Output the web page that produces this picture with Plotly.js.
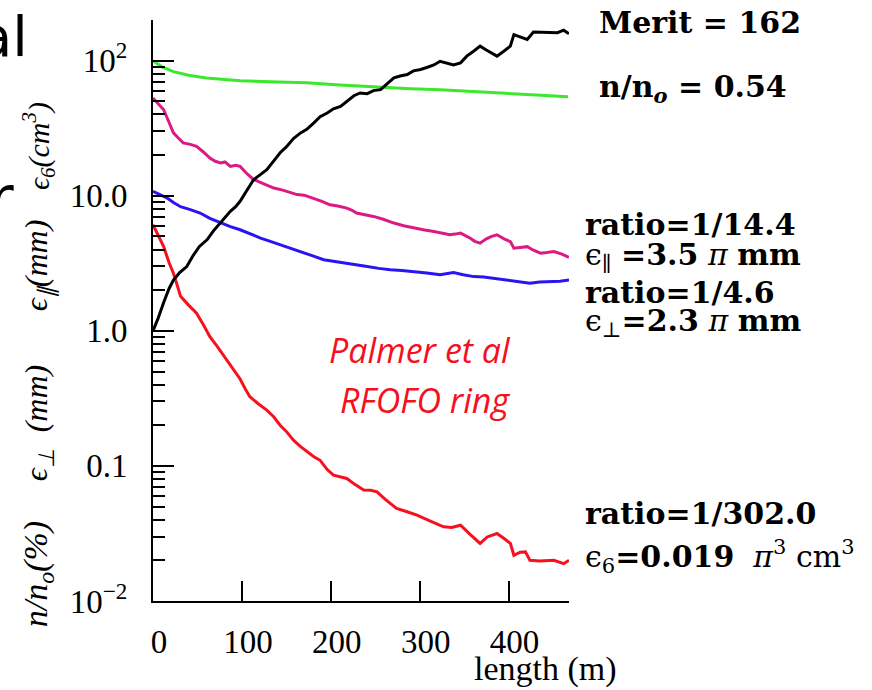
<!DOCTYPE html>
<html>
<head>
<meta charset="utf-8">
<script src="https://cdn.plot.ly/plotly-3.0.1.min.js"></script>
<style>html,body{margin:0;padding:0;background:#fff;}#chart{width:872px;height:690px;}</style>
</head>
<body>
<div id="chart"></div>
<script>
// length (m)
const xMerit = [0,6,12,18,23,30,38,45,52,61,68,76,82,87,93,98,105,113,120,128,135,143,150,158,166,173,181,188,196,203,211,218,226,233,241,248,256,263,271,278,286,293,301,308,316,323,330,338,346,353,361,368,375,381,387,395,402,406,413,421,428,436,446,455,462,468];
const yMerit = [1.0,1.25,1.62,2.05,2.38,2.7,2.99,3.6,4.2,4.74,5.5,6.3,7.0,7.66,8.3,9.1,10.8,13.1,14.2,15.6,17.8,20.8,23,26.5,29.2,31,34.6,38.5,41,44,45.9,50,55,57.7,57,60,61,67,74.5,77,79,84,86,89,93,99,96,93,96.4,108,118,128,120,113,108,118,128,156,150,143.5,163,162,161,161,168,158];

const xTrans = [0,10,23,40,60,98,140,173,210,248,290,323,360,398,435,467];
const yTrans = [100,90,83,78,74.5,71,69.5,68.5,66,63.8,62,61,59,57.5,55.5,54];

const xLong = [0,6,12,18,23,29,34,42,49,57,64,70,76,81,87,93,98,106,113,124,136,146,154,162,170,181,190,199,208,218,224,229,240,248,259,271,282,293,304,316,325,334,340,346,357,362,368,375,381,387,395,402,406,414,421,428,436,443,451,460,468];
const yLong = [53,48,43.3,35,29.2,26.5,24.6,24,23.2,21,19,18,17.5,17.8,16.5,16.8,16.5,14.5,13.2,12.3,11.4,11,10.6,10.2,10.1,9.6,9.1,8.57,8.4,8.1,7.8,7.45,7.2,7.03,6.7,6.28,6.0,5.76,5.6,5.44,5.3,5.14,5.2,5.29,4.85,4.6,4.46,4.8,5.0,5.14,4.8,4.58,4.09,4.15,4.2,3.95,3.76,3.8,3.86,3.7,3.5];

const xPerp = [0,8,16,23,31,42,53,64,76,87,98,109,121,132,143,154,166,179,192,205,218,229,241,254,267,280,293,308,323,330,338,349,361,372,383,394,406,415,424,435,447,458,468];
const yPerp = [10.8,10.2,9.6,8.9,8.3,7.9,7.45,6.8,6.28,5.9,5.6,5.2,4.86,4.6,4.33,4.1,3.86,3.6,3.36,3.25,3.17,3.05,2.99,2.9,2.83,2.8,2.75,2.68,2.6,2.65,2.7,2.6,2.52,2.5,2.45,2.38,2.32,2.3,2.25,2.3,2.32,2.33,2.38];

const x6D = [0,6,12,18,23,27,31,40,49,57,64,72,79,88,98,104,109,118,128,136,143,150,158,166,173,181,188,196,203,210,218,227,237,245,252,262,274,285,297,312,327,336,346,357,368,376,387,395,402,406,413,419,424,435,451,462,468];
const y6D = [6.1,5.0,4.2,3.2,2.67,2.2,1.8,1.55,1.35,1.1,0.905,0.77,0.662,0.55,0.44,0.37,0.325,0.29,0.259,0.23,0.2,0.18,0.155,0.139,0.128,0.117,0.11,0.094,0.0855,0.083,0.0807,0.073,0.0662,0.066,0.0643,0.056,0.0484,0.046,0.0432,0.039,0.0354,0.035,0.0364,0.031,0.0267,0.0298,0.0316,0.029,0.0267,0.0218,0.023,0.0231,0.02,0.0198,0.02,0.0189,0.02];

const xTickVals = [0,100,200,300,400];
const xTickText = ['0','100','200','300','400'];
const yTickVals = [0.01,0.1,1,10,100];
const yTickText = ['10<sup>−2</sup>','0.1','1.0','10.0','10<sup>2</sup>'];
const yMinorVals = [];
[0.01,0.1,1,10,100].forEach(d => { for (let k = 2; k <= 9; k++) yMinorVals.push(+(d*k).toPrecision(3)); });

const mk = (x, y, color) => ({x, y, type:'scatter', mode:'lines', line:{color, width:3}, hoverinfo:'skip', showlegend:false});
const data = [
  mk(xTrans, yTrans, '#3be82c'),
  mk(xLong, yLong, '#dc1a84'),
  mk(xPerp, yPerp, '#2a14f2'),
  mk(x6D, y6D, '#f8101e'),
  mk(xMerit, yMerit, '#000000')
];

const px = p => (p - 153) / 416;       // pixel x -> paper
const py = p => (600.7 - p) / 580.7;   // pixel y -> paper
const serifB = {family:'DejaVu Serif', size:30, color:'#000'};
const ann = (text, x, y, font, extra) => Object.assign({text, x:px(x), y:py(y), xref:'paper', yref:'paper', showarrow:false, xanchor:'left', yanchor:'middle', font}, extra||{});
const itFont = {family:'Liberation Serif', size:32, color:'#000'};
const annotations = [
  ann('<b>Merit = 162</b>', 597, 22, serifB),
  ann('<b>n/n<sub><i>o</i></sub> = 0.54</b>', 597, 88, serifB),
  ann('<b>ratio=1/14.4</b>', 583, 224, serifB),
  ann('ϵ<sub>∥</sub> <b>=3.5</b> <i>π</i> <b>mm</b>', 583, 256, serifB),
  ann('<b>ratio=1/4.6</b>', 583, 292, serifB),
  ann('ϵ<sub>⊥</sub><b>=2.3</b> <i>π</i> <b>mm</b>', 583, 322, serifB),
  ann('<b>ratio=1/302.0</b>', 583, 513, serifB),
  ann('ϵ<sub>6</sub><b>=0.019</b>  <i>π</i><sup>3</sup> cm<sup>3</sup>', 583, 556, serifB),
  ann('length (m)', 545, 669, {family:'Liberation Serif', size:34, color:'#000'}, {xanchor:'center'}),
  ann('<i>Palmer et al</i>', 420, 350, {family:'Open Sans', size:34, color:'#f5101e'}, {xanchor:'center'}),
  ann('<i>RFOFO ring</i>', 425, 400, {family:'Open Sans', size:34, color:'#f5101e'}, {xanchor:'center'}),
  ann('<i>n/n<sub>o</sub>(%)</i>', 38, 574, {family:'Liberation Serif', size:34, color:'#000'}, {xanchor:'center', textangle:-90}),
  ann('<i>ϵ<sub>⊥</sub>  (mm)</i>', 38, 423, itFont, {xanchor:'center', textangle:-90}),
  ann('<i>ϵ<sub>∥</sub>(mm)</i>', 38, 266, itFont, {xanchor:'center', textangle:-90}),
  ann('<i>ϵ<sub>6</sub>(cm<sup>3</sup>)</i>', 38, 146, {family:'Liberation Serif', size:30, color:'#000'}, {xanchor:'center', textangle:-90}),
  ann('al', 30, 36, {family:'DejaVu Sans', size:56, color:'#000'}, {xanchor:'right'}),
  ann('r', 16, 198, {family:'DejaVu Sans', size:60, color:'#000'}, {xanchor:'right'})
];

const layout = {
  width:872, height:690,
  margin:{l:153, r:303, t:20, b:89.3, pad:0},
  paper_bgcolor:'#fff', plot_bgcolor:'#fff',
  showlegend:false,
  xaxis:{range:[0,468], showline:true, linecolor:'#000', linewidth:2, showgrid:false, zeroline:false,
         tickmode:'array', tickvals:xTickVals, ticktext:xTickText, ticks:'inside', ticklen:20, tickwidth:2, tickcolor:'#000',
         ticklabelstandoff:10, ticklabelshift:6, tickfont:{family:'Liberation Serif', size:33, color:'#000'}},
  yaxis:{type:'log', range:[-2, Math.log10(200)], showline:true, linecolor:'#000', linewidth:2, showgrid:false, zeroline:false,
         tickmode:'array', tickvals:yTickVals, ticktext:yTickText, ticks:'inside', ticklen:21, tickwidth:2, tickcolor:'#000',
         ticklabelstandoff:17, tickfont:{family:'Liberation Serif', size:33, color:'#000'},
         minor:{tickmode:'array', tickvals:yMinorVals, ticks:'inside', ticklen:12, tickwidth:2, tickcolor:'#000', showgrid:false}},
  annotations
};
Plotly.newPlot('chart', data, layout, {displayModeBar:false, staticPlot:true});
</script>
</body>
</html>
